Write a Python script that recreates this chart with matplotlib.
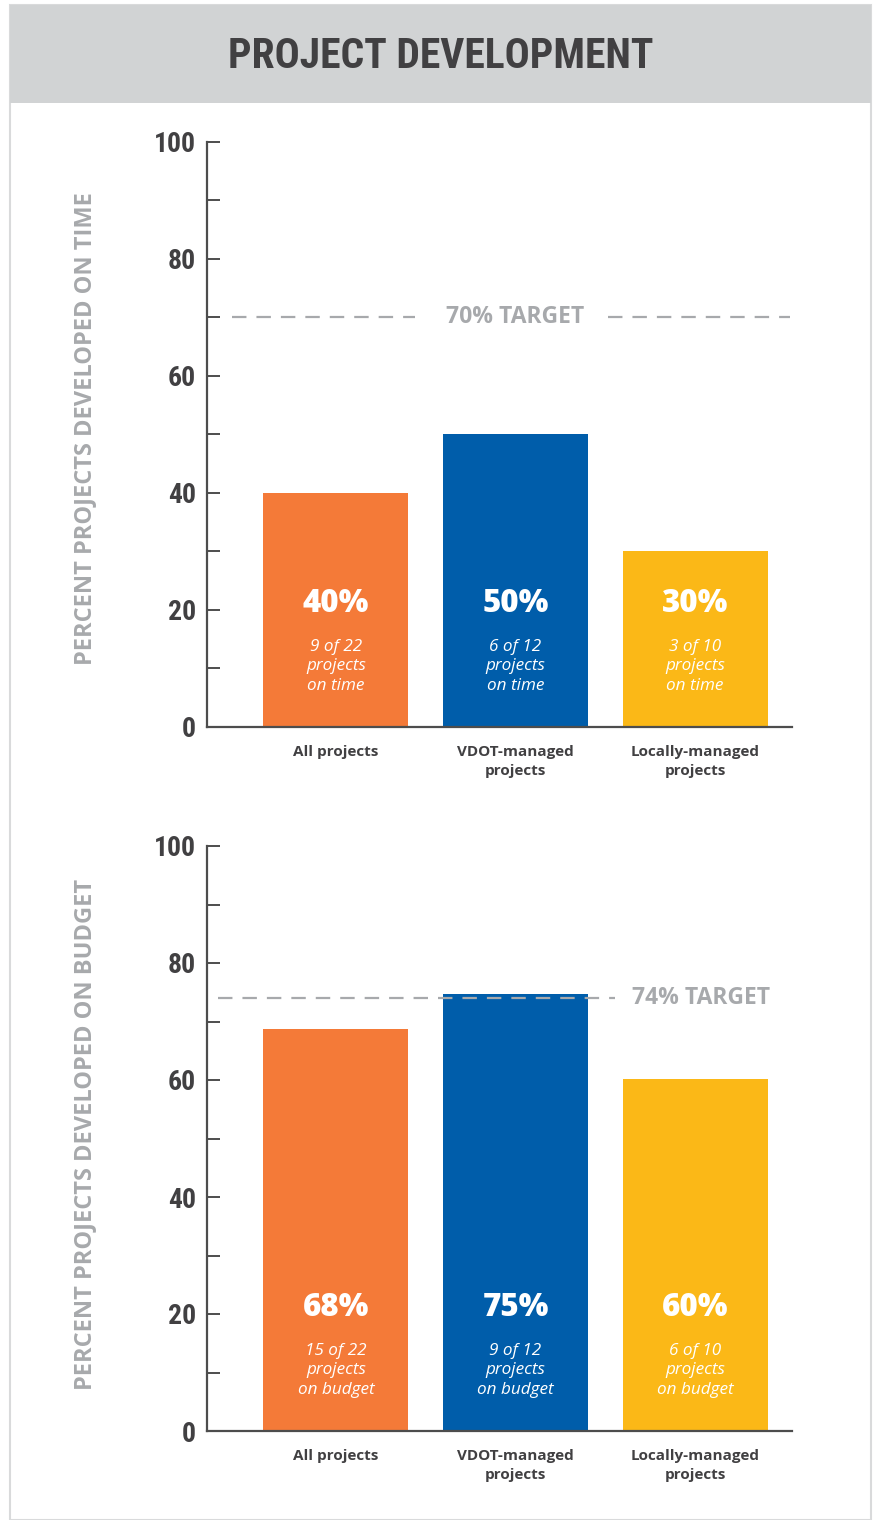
import matplotlib.pyplot as plt
from matplotlib.patches import Rectangle

# data
categories = ["All projects", "VDOT-managed\nprojects", "Locally-managed\nprojects"]
bar_colors = ["#F47A38", "#005DAA", "#FBB817"]

time_values = [40, 50, 30]
time_labels = ["40%", "50%", "30%"]
time_notes = ["9 of 22\nprojects\non time", "6 of 12\nprojects\non time", "3 of 10\nprojects\non time"]
time_target = 70

budget_values = [68.7, 74.7, 60.2]
budget_labels = ["68%", "75%", "60%"]
budget_notes = ["15 of 22\nprojects\non budget", "9 of 12\nprojects\non budget", "6 of 10\nprojects\non budget"]
budget_target = 74

DARK = "#414042"
GRAY = "#A7A9AC"
FONT = ["Open Sans", "DejaVu Sans"]
NARROW = ["Roboto Condensed", "Liberation Sans Narrow", "Roboto", "DejaVu Sans"]

plt.rcParams["font.family"] = FONT

fig = plt.figure(figsize=(8.77, 15.2), dpi=100)
W, H = 877, 1520

# panel border and header
fig.patches.append(Rectangle((10 / W, 0), 861 / W, 1 - 5 / H, transform=fig.transFigure,
                             facecolor="white", edgecolor="#D9DADB", lw=1.5, zorder=0))
fig.patches.append(Rectangle((10 / W, 1 - 103 / H), 861 / W, 98 / H, transform=fig.transFigure,
                             facecolor="#D1D3D4", edgecolor="none", zorder=1))
fig.text(441 / W, 1 - 57 / H, "PROJECT DEVELOPMENT", ha="center", va="center",
         fontsize=30, fontweight="bold", color=DARK, family=NARROW)


def draw_panel(ax, values, labels, notes, target, target_text, segments, text_x, text_ha, ylabel, ylabel_y):
    ax.set_zorder(5)
    ax.patch.set_visible(False)
    x = list(range(len(values)))
    ax.bar(x, values, width=0.806, color=bar_colors, zorder=2)
    ax.set_xlim(-0.717, 2.539)
    ax.set_ylim(0, 100)

    for xi, lab, note in zip(x, labels, notes):
        ax.text(xi, 21.0, lab, ha="center", va="center", color="white",
                fontsize=22.5, fontweight=800)
        ax.text(xi, 10.4, note, ha="center", va="center", color="white",
                fontsize=12.3, style="italic", linespacing=1.3)

    # target line (dashed segments around the label)
    for a, b in segments:
        ax.axhline(target, xmin=a, xmax=b, color=GRAY, lw=1.6, zorder=3,
                   dashes=(6.5, 4.5))
    ax.text(text_x, target, target_text, transform=ax.get_yaxis_transform(),
            ha=text_ha, va="center", color=GRAY, fontsize=16.5, fontweight="bold")

    for side in ["top", "right"]:
        ax.spines[side].set_visible(False)
    for side in ["left", "bottom"]:
        ax.spines[side].set_color("#4D4D4D")
        ax.spines[side].set_linewidth(1.6)

    ax.set_yticks(range(0, 101, 10))
    ax.set_yticklabels([str(v) if v % 20 == 0 else "" for v in range(0, 101, 10)])
    ax.tick_params(axis="y", direction="in", length=9.5, width=1.4, color="#4D4D4D",
                   labelsize=20, labelcolor=DARK, pad=8)
    for t in ax.get_yticklabels():
        t.set_fontweight("bold")
        t.set_family(NARROW)

    ax.set_xticks(x)
    ax.set_xticklabels(categories, fontsize=11, fontweight="bold", color=DARK, linespacing=1.45)
    ax.tick_params(axis="x", length=0, pad=13)

    fig.text(85 / W, 1 - ylabel_y / H, ylabel, rotation=90, ha="center", va="center",
             color=GRAY, fontsize=17, fontweight="bold")


ax1 = fig.add_axes([207 / W, 1 - 727 / H, 585 / W, 585 / H])
draw_panel(ax1, time_values, time_labels, time_notes, time_target, "70% TARGET",
           [(0.043, 0.356), (0.686, 0.997)], 0.526, "center",
           "PERCENT PROJECTS DEVELOPED ON TIME", 429)

ax2 = fig.add_axes([207 / W, 1 - 1431 / H, 585 / W, 585 / H])
draw_panel(ax2, budget_values, budget_labels, budget_notes, budget_target, "74% TARGET",
           [(0.019, 0.697)], 0.726, "left",
           "PERCENT PROJECTS DEVELOPED ON BUDGET", 1134)

fig.savefig("out.png", dpi=100)
